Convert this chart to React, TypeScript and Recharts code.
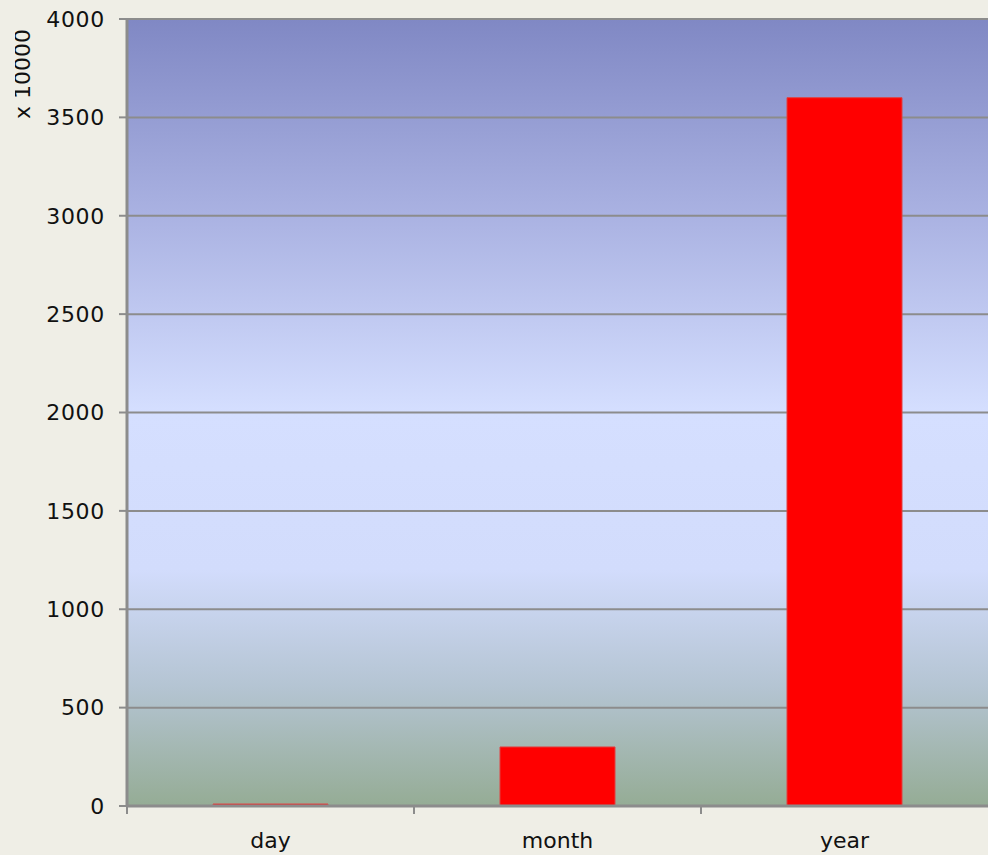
import { BarChart, Bar, XAxis, YAxis, CartesianGrid } from "recharts";

// values (units of 10000)
const periods = ["day", "month", "year"];
const totals = [10, 300, 3600];
const yTicks = [0, 500, 1000, 1500, 2000, 2500, 3000, 3500, 4000];

const data = periods.map((name, i) => ({ name, total: totals[i] }));

const FONT = "'DejaVu Sans', Verdana, sans-serif";

// tick label at the category centre, tick mark on the left edge of the band
function PeriodTick(props: any) {
  const { x, y, payload } = props;
  const half = payload && payload.offset ? payload.offset : 143.5;
  return (
    <g>
      <line x1={x - half} y1={y - 8} x2={x - half} y2={y} stroke="#8c8c8c" strokeWidth={2} />
      <text x={x} y={y + 34} textAnchor="middle" fill="#111" fontSize={22} fontFamily={FONT}>
        {payload.value}
      </text>
    </g>
  );
}

function UnitLabel(props: any) {
  const { viewBox } = props;
  const cx = viewBox.x + 30;
  const cy = viewBox.y + 55;
  return (
    <g>
      <defs>
        <clipPath id="unitClip">
          <rect x={viewBox.x + 15} y={0} width={60} height={200} />
        </clipPath>
      </defs>
      <g clipPath="url(#unitClip)">
        <text
          x={cx}
          y={cy}
          transform={`rotate(-90, ${cx}, ${cy})`}
          textAnchor="middle"
          fill="#111"
          fontSize={22}
          fontFamily={FONT}
        >
          x 10000
        </text>
      </g>
    </g>
  );
}

export default function App() {
  return (
    <div
      style={{
        position: "fixed",
        left: 0,
        top: 0,
        width: 988,
        height: 855,
        background: "#efeee6",
        overflow: "hidden",
      }}
    >
      <BarChart
        width={988}
        height={855}
        data={data}
        margin={{ top: 19, right: 0, left: 0, bottom: 0 }}
      >
        <defs>
          <linearGradient id="plotBg" x1="0" y1="0" x2="0" y2="1">
            <stop offset="0%" stopColor="#8088c4" />
            <stop offset="25%" stopColor="#aab2e2" />
            <stop offset="50%" stopColor="#d5dfff" />
            <stop offset="70%" stopColor="#d2dcfc" />
            <stop offset="85%" stopColor="#b4c4d2" />
            <stop offset="100%" stopColor="#95ac95" />
          </linearGradient>
        </defs>
        <CartesianGrid
          vertical={false}
          fill="url(#plotBg)"
          fillOpacity={1}
          stroke="#8c8c8c"
          strokeWidth={2}
          strokeOpacity={1}
        />
        <XAxis
          dataKey="name"
          height={49}
          axisLine={{ stroke: "#8c8c8c", strokeWidth: 3 }}
          tickLine={false}
          tick={<PeriodTick />}
          interval={0}
        />
        <YAxis
          width={127}
          domain={[0, 4000]}
          ticks={yTicks}
          interval={0}
          tickSize={8}
          tickMargin={14}
          axisLine={{ stroke: "#8c8c8c", strokeWidth: 3 }}
          tickLine={{ stroke: "#8c8c8c", strokeWidth: 2 }}
          tick={{ fill: "#111", fontSize: 22, fontFamily: FONT, letterSpacing: 0.7 }}
          label={<UnitLabel />}
        />
        <Bar
          dataKey="total"
          fill="#ff0000"
          stroke="#e04040"
          strokeWidth={1}
          barSize={115}
          isAnimationActive={false}
        />
      </BarChart>
    </div>
  );
}
